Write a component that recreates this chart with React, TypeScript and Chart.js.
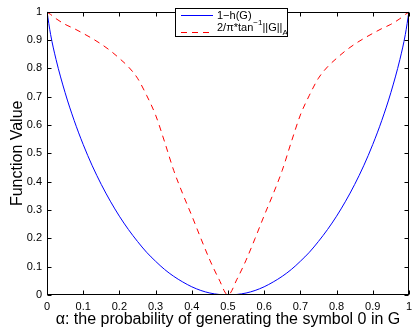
import React, { useEffect, useRef } from "react";
import { Chart, registerables } from "chart.js";

Chart.register(...registerables);

// alpha values (x axis)
const alpha = [
  0, 0.01, 0.025, 0.05, 0.075, 0.1, 0.125, 0.15, 0.175, 0.2, 0.225, 0.25, 0.275, 0.3, 0.325, 0.35, 0.375, 0.4,
  0.425, 0.45, 0.475, 0.5, 0.525, 0.55, 0.575, 0.6, 0.625, 0.65, 0.675, 0.7, 0.725, 0.75, 0.775, 0.8, 0.825,
  0.85, 0.875, 0.9, 0.925, 0.95, 0.975, 0.99, 1,
];

// 1 - h(G)  (blue solid)
const oneMinusH = [
  1, 0.919, 0.831, 0.714, 0.616, 0.531, 0.456, 0.39, 0.331, 0.278, 0.231, 0.189, 0.151, 0.119, 0.09, 0.066,
  0.046, 0.029, 0.016, 0.007, 0.002, 0, 0.002, 0.007, 0.016, 0.029, 0.046, 0.066, 0.09, 0.119, 0.151, 0.189,
  0.231, 0.278, 0.331, 0.39, 0.456, 0.531, 0.616, 0.714, 0.831, 0.919, 1,
];

// 2/pi * tan^-1 ||G||_A  (red dashed)
const arctanNorm = [
  0.998, 0.99, 0.975, 0.955, 0.94, 0.923, 0.905, 0.885, 0.862, 0.835, 0.805, 0.765, 0.705, 0.635, 0.54, 0.44,
  0.357, 0.28, 0.2, 0.123, 0.056, 0, 0.056, 0.123, 0.2, 0.28, 0.357, 0.44, 0.54, 0.635, 0.705, 0.765, 0.805,
  0.835, 0.862, 0.885, 0.905, 0.923, 0.94, 0.955, 0.975, 0.99, 0.998,
];

const xTicks = [0, 0.1, 0.2, 0.3, 0.4, 0.5, 0.6, 0.7, 0.8, 0.9, 1];
const xTickLabels = ["0", "0.1", "0.2", "0.3", "0.4", "0.5", "0.6", "0.7", "0.8", "0.9", "1"];
const yTicks = [0, 0.1, 0.2, 0.3, 0.4, 0.5, 0.6, 0.7, 0.8, 0.9, 1];
const yTickLabels = ["0", "0.1", "0.2", "0.3", "0.4", "0.5", "0.6", "0.7", "0.8", "0.9", "1"];

const seriesNames = ["1\u2212h(G)", "2/\u03c0*tan\u207b\u00b9||G||A"];
const xTitle = "\u03b1: the probability of generating the symbol 0 in G";
const yTitle = "Function Value";

const FONT = "'Liberation Sans', Arial, Helvetica, sans-serif";
const BLUE = "#0000ff";
const RED = "#ff0000";
const DASH = [6, 5];

export default function App() {
  const ref = useRef<HTMLCanvasElement>(null);

  useEffect(() => {
    document.body.style.margin = "0";
    const canvas = ref.current;
    if (!canvas) return;

    const boxPlugin = {
      id: "matlabBox",
      afterDatasetsDraw(chart: any) {
        const { ctx, chartArea: a, scales } = chart;
        const L = Math.round(a.left) + 0.5;
        const R = Math.round(a.right) - 0.5;
        const T = Math.round(a.top) + 0.5;
        const B = Math.round(a.bottom) - 0.5;
        ctx.save();
        ctx.strokeStyle = "#000";
        ctx.lineWidth = 1;
        ctx.setLineDash([]);
        ctx.strokeRect(L, T, R - L, B - T);
        const tl = 4;
        ctx.beginPath();
        for (const v of xTicks) {
          const px = Math.round(scales.x.getPixelForValue(v)) + 0.5;
          ctx.moveTo(px, B);
          ctx.lineTo(px, B - tl);
          ctx.moveTo(px, T);
          ctx.lineTo(px, T + tl);
        }
        for (const v of yTicks) {
          const py = Math.round(scales.y.getPixelForValue(v)) + 0.5;
          ctx.moveTo(L, py);
          ctx.lineTo(L + tl, py);
          ctx.moveTo(R, py);
          ctx.lineTo(R - tl, py);
        }
        ctx.stroke();

        // legend
        const lx = 175.5, ly = 8.5, lw = 112, lh = 28;
        ctx.fillStyle = "#fff";
        ctx.fillRect(lx, ly, lw, lh);
        ctx.strokeStyle = "#000";
        ctx.strokeRect(lx, ly, lw, lh);

        ctx.lineWidth = 1;
        ctx.strokeStyle = BLUE;
        ctx.beginPath();
        ctx.moveTo(181, 15.5);
        ctx.lineTo(213, 15.5);
        ctx.stroke();

        ctx.strokeStyle = RED;
        ctx.setLineDash(DASH);
        ctx.beginPath();
        ctx.moveTo(181, 32.5);
        ctx.lineTo(213, 32.5);
        ctx.stroke();
        ctx.setLineDash([]);

        ctx.fillStyle = "#000";
        ctx.textBaseline = "middle";
        ctx.textAlign = "left";
        ctx.font = `11px ${FONT}`;
        ctx.fillText(seriesNames[0], 217, 15.5);

        let x = 217;
        const y2 = 28;
        const main1 = "2/\u03c0*tan";
        ctx.fillText(main1, x, y2);
        x += ctx.measureText(main1).width;
        ctx.font = `8px ${FONT}`;
        const sup = "\u22121";
        ctx.fillText(sup, x, y2 - 5);
        x += ctx.measureText(sup).width;
        ctx.font = `11px ${FONT}`;
        const main2 = "||G||";
        ctx.fillText(main2, x, y2);
        x += ctx.measureText(main2).width;
        ctx.font = `8px ${FONT}`;
        ctx.fillText("A", x, y2 + 5);
        ctx.restore();
      },
    };

    const tickFont = { family: FONT, size: 11 };

    const chart = new Chart(canvas, {
      type: "line",
      data: {
        datasets: [
          {
            label: seriesNames[0],
            data: alpha.map((x, i) => ({ x, y: oneMinusH[i] })),
            borderColor: BLUE,
            borderWidth: 1,
            pointRadius: 0,
            fill: false,
            cubicInterpolationMode: "monotone",
          },
          {
            label: seriesNames[1],
            data: alpha.map((x, i) => ({ x, y: arctanNorm[i] })),
            borderColor: RED,
            borderWidth: 1,
            borderDash: DASH,
            pointRadius: 0,
            fill: false,
            cubicInterpolationMode: "monotone",
          },
        ],
      },
      options: {
        responsive: false,
        animation: false,
        layout: { padding: { top: 5, right: 2, left: 0, bottom: 0 } },
        plugins: { legend: { display: false }, tooltip: { enabled: false } },
        scales: {
          x: {
            type: "linear",
            min: 0,
            max: 1,
            afterBuildTicks: (s: any) => {
              s.ticks = xTicks.map((v) => ({ value: v }));
            },
            afterFit: (s: any) => {
              s.height = 39;
            },
            ticks: {
              autoSkip: false,
              maxRotation: 0,
              padding: 5,
              color: "#000",
              font: tickFont,
              callback: (v: any) => xTickLabels[xTicks.indexOf(Number(v))] ?? "",
            },
            grid: { display: false, drawTicks: false },
            border: { display: false },
            title: {
              display: true,
              text: xTitle,
              color: "#000",
              font: { family: FONT, size: 16 },
              padding: { top: 0, bottom: 5 },
            },
          },
          y: {
            type: "linear",
            min: 0,
            max: 1,
            afterBuildTicks: (s: any) => {
              s.ticks = yTicks.map((v) => ({ value: v }));
            },
            afterFit: (s: any) => {
              s.width = 47;
            },
            ticks: {
              autoSkip: false,
              padding: 5,
              color: "#000",
              font: tickFont,
              callback: (v: any) => yTickLabels[yTicks.indexOf(Number(v))] ?? "",
            },
            grid: { display: false, drawTicks: false },
            border: { display: false },
            title: {
              display: true,
              text: yTitle,
              color: "#000",
              font: { family: FONT, size: 16 },
              padding: { top: 8, bottom: 0 },
            },
          },
        },
      },
      plugins: [boxPlugin],
    } as any);

    return () => chart.destroy();
  }, []);

  return <canvas ref={ref} width={417} height={334} style={{ display: "block" }} />;
}
